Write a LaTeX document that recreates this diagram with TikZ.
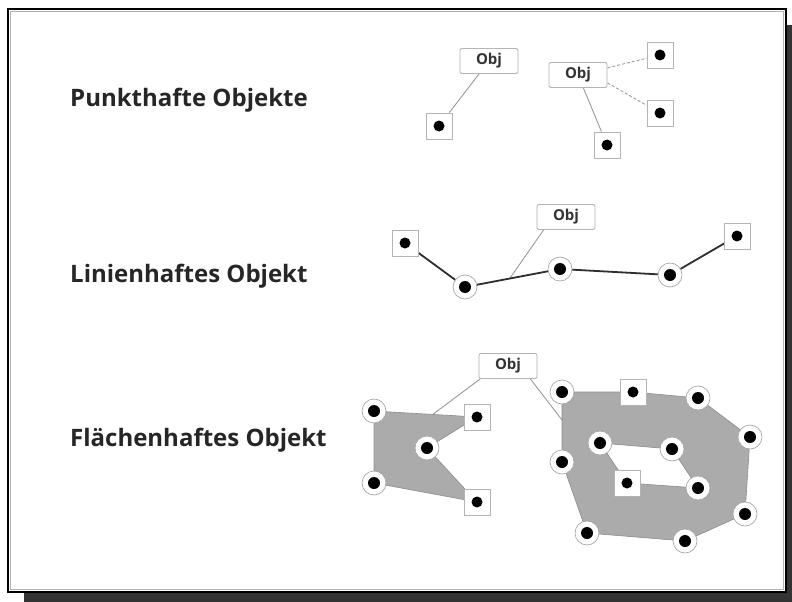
\documentclass[tikz,border=0pt]{standalone}
\usepackage{fontspec}
\setmainfont{Open Sans}
\usetikzlibrary{calc}
\definecolor{shadowgray}{HTML}{333333}
\definecolor{boxgray}{HTML}{B4B4B4}
\definecolor{ringgray}{HTML}{A8A8A8}
\definecolor{linkgray}{HTML}{9A9A9A}
\definecolor{areagray}{HTML}{ABABAB}
\definecolor{edgegray}{HTML}{8C8C8C}
\definecolor{linedark}{HTML}{2E2E2E}
\begin{document}
\begin{tikzpicture}[x=1pt,y=-1pt,
  heading/.style={anchor=base west, inner sep=0pt, font=\bfseries\fontsize{24}{24}\selectfont, text=black!85},
  objbox/.style={draw=boxgray, fill=white, rounded corners=2pt, minimum width=58pt, minimum height=25pt,
    inner sep=0pt, line width=0.9pt, font=\bfseries\fontsize{15}{15}\selectfont, text=black!80},
  sqpt/.style={draw=boxgray, fill=white, minimum size=26pt, inner sep=0pt, line width=0.9pt,
    path picture={\fill[black] (path picture bounding box.center) circle (5.5pt);}},
  rgpt/.style={circle, draw=ringgray, fill=white, minimum size=24pt, inner sep=0pt, line width=0.7pt,
    path picture={\fill[black] (path picture bounding box.center) circle (6pt);}},
  link/.style={draw=linkgray, line width=0.9pt},
  dlink/.style={link, dashed, dash pattern=on 3pt off 2pt},
  area/.style={fill=areagray, draw=edgegray, line width=0.6pt},
  polyline/.style={draw=linedark, line width=1.8pt}
]
\useasboundingbox (0,0) rectangle (792,602);

% frame with drop shadow
\fill[shadowgray] (24,25) rectangle (792,602);
\draw[fill=white, line width=2pt] (8,9) rectangle (786,592);
\draw[gray!60, line width=0.8pt] (10.5,11.5) rectangle (783.5,589.5);

% headings
\node[heading] (h1) at (70,106) {Punkthafte Objekte};
\node[heading] (h2) at (70,282) {Linienhaftes Objekt};
\node[heading] (h3) at (70,446) {Flächenhaftes Objekt};

% --- point objects ---
\node[objbox] (o1) at (489,61) {Obj};
\node[sqpt] (p1) at (439,126) {};
\draw[link] (o1) -- (p1);

\node[objbox] (o2) at (578,75) {Obj};
\node[sqpt] (p2a) at (660,55) {};
\node[sqpt] (p2b) at (660,113) {};
\node[sqpt] (p2c) at (607,145) {};
\draw[dlink] (o2) -- (p2a);
\draw[dlink] (o2.-15) -- (p2b);
\draw[link] (o2) -- (p2c);

% --- line object ---
\coordinate (l1) at (405,243);
\coordinate (l2) at (465,287);
\coordinate (l3) at (560,269);
\coordinate (l4) at (670,275);
\coordinate (l5) at (737,236);
\coordinate (lc) at ($(l2)!0.47!(l3)$);
\node[objbox] (ol) at (566,217) {Obj};
\draw[link] (ol.-150) -- (lc);
\draw[polyline] (l1) -- (l2) -- (l3) -- (l4) -- (l5);
\node[sqpt] (ln1) at (l1) {};
\node[rgpt] (ln2) at (l2) {};
\node[rgpt] (ln3) at (l3) {};
\node[rgpt] (ln4) at (l4) {};
\node[sqpt] (ln5) at (l5) {};

% --- area objects ---
\coordinate (a1) at (374,411);
\coordinate (a2) at (477,417);
\coordinate (a3) at (427,448);
\coordinate (a4) at (477,502);
\coordinate (a5) at (374,483);

\coordinate (b1) at (562,392);
\coordinate (b2) at (633,392);
\coordinate (b3) at (698,398);
\coordinate (b4) at (750,437);
\coordinate (b5) at (745,514);
\coordinate (b6) at (685,541);
\coordinate (b7) at (587,533);
\coordinate (b8) at (562,462);
\coordinate (i1) at (600,443);
\coordinate (i2) at (672,449);
\coordinate (i3) at (698,488);
\coordinate (i4) at (627,483);

\path[area] (a1) -- (a2) -- (a3) -- (a4) -- (a5) -- cycle;
\path[area, even odd rule] (b1) -- (b2) -- (b3) -- (b4) -- (b5) -- (b6) -- (b7) -- (b8) -- cycle
  (i1) -- (i2) -- (i3) -- (i4) -- cycle;

\node[objbox] (of) at (508,366) {Obj};
\coordinate (fa) at ($(a1)!0.57!(a2)$);
\coordinate (fb) at ($(b1)!0.4!(b8)$);
\draw[link] (of.-155) -- (fa);
\draw[link] (of.-30) -- (fb);

\node[rgpt] (an1) at (a1) {};
\node[sqpt] (an2) at (a2) {};
\node[rgpt] (an3) at (a3) {};
\node[sqpt] (an4) at (a4) {};
\node[rgpt] (an5) at (a5) {};

\node[rgpt] (bn1) at (b1) {};
\node[sqpt] (bn2) at (b2) {};
\node[rgpt] (bn3) at (b3) {};
\node[rgpt] (bn4) at (b4) {};
\node[rgpt] (bn5) at (b5) {};
\node[rgpt] (bn6) at (b6) {};
\node[rgpt] (bn7) at (b7) {};
\node[rgpt] (bn8) at (b8) {};
\node[rgpt] (in1) at (i1) {};
\node[rgpt] (in2) at (i2) {};
\node[rgpt] (in3) at (i3) {};
\node[sqpt] (in4) at (i4) {};
\end{tikzpicture}
\end{document}
